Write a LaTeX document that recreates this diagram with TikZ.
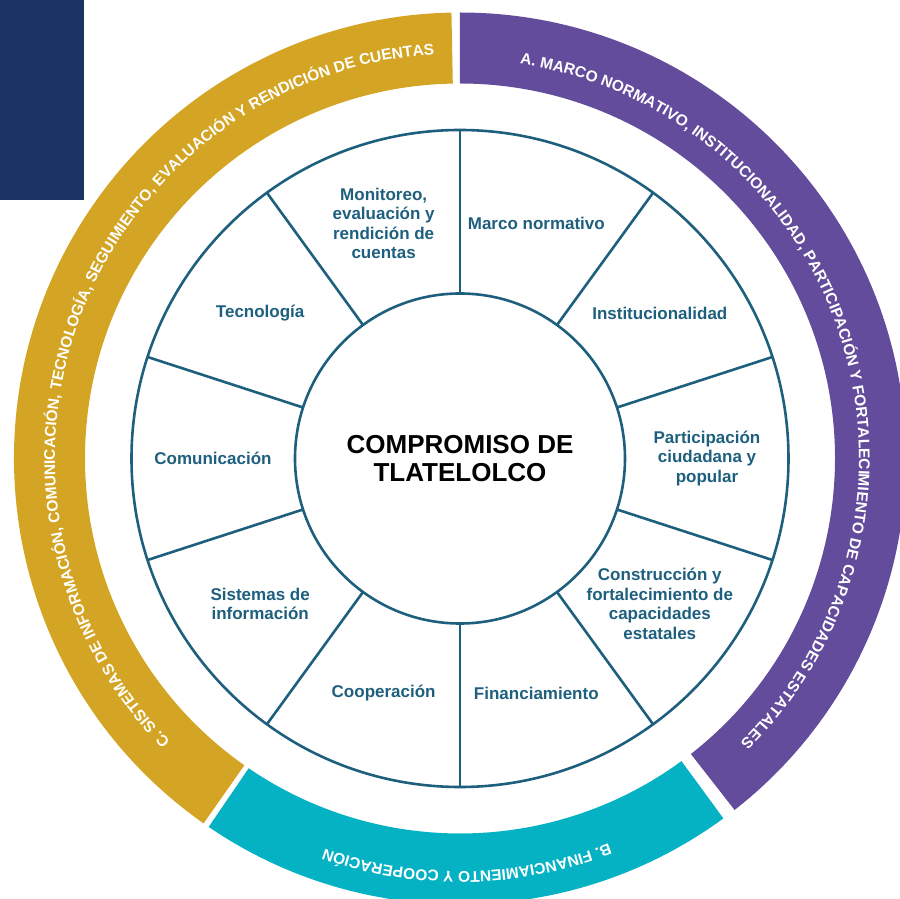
\documentclass[tikz,border=0pt]{standalone}
\usepackage{fontspec}
\setmainfont{Liberation Sans}
\usepackage{xcolor}
\usepackage{tikz}
\usetikzlibrary{decorations.text, positioning}
\definecolor{wheelblue}{HTML}{1E5F7E}
\definecolor{bandpurple}{HTML}{634C9C}
\definecolor{bandteal}{HTML}{04B2C4}
\definecolor{bandgold}{HTML}{D4A524}
\definecolor{cornernavy}{HTML}{1B3463}
\tikzset{
    spoke/.style = {draw=wheelblue, line width=2.6pt},
    circlenode/.style = {draw=wheelblue, line width=2.6pt, circle, fill=none, inner sep=0em, outer sep=0em},
    cellnode/.style = {draw=none, fill=none, rectangle, inner sep=0em, align=center, text=wheelblue, 
      font=\fontsize{17}{19.5}\selectfont\bfseries},
    centernode/.style = {align=center, text=black, font=\fontsize{26}{28}\selectfont\bfseries},
    bandtext/.style = {decorate, decoration={text along path, text color=white, text align=center, 
      text={|\fontsize{15.5}{18}\selectfont\bfseries|#1}}}
}
\begin{document}
\begin{tikzpicture}[x=1pt, y=1pt]
    \useasboundingbox (-460,-440.5) rectangle (440,458.5);
    \fill[cornernavy] (-460,458.5) rectangle (-376,258.5);

    \fill[bandpurple] (90:446) arc[start angle=90, end angle=-52, radius=446] -- (-52:375) 
      arc[start angle=-52, end angle=90, radius=375] -- cycle;
    \fill[bandteal] (-53.8:446) arc[start angle=-53.8, end angle=-124.3, radius=446] -- (-124.3:375) 
      arc[start angle=-124.3, end angle=-53.8, radius=375] -- cycle;
    \fill[bandgold] (234.9:446) arc[start angle=234.9, end angle=91.1, radius=446] -- (91.1:375) 
      arc[start angle=91.1, end angle=234.9, radius=375] -- cycle;

    \path[bandtext={A. MARCO NORMATIVO, INSTITUCIONALIDAD, PARTICIPACIÓN Y FORTALECIMIENTO DE CAPACIDADES ESTATALES}] 
      (88:399) arc[start angle=88, end angle=-52, radius=399];
    \path[bandtext={B. FINANCIAMIENTO Y COOPERACIÓN}] 
      (-54:413) arc[start angle=-54, end angle=-124, radius=413];
    \path[bandtext={C. SISTEMAS DE INFORMACIÓN, COMUNICACIÓN, TECNOLOGÍA, SEGUIMIENTO, EVALUACIÓN Y RENDICIÓN DE CUENTAS}] 
      (232:405) arc[start angle=232, end angle=86, radius=405];

    \node [name=rim, circlenode, minimum size=657pt] at (0,0) {};
    \node [name=hub, circlenode, minimum size=330pt] at (0,0) {};
    \node [name=title, centernode] at (hub.center) {COMPROMISO DE\\TLATELOLCO};

    \draw[spoke] (hub.90) -- (rim.90);
    \draw[spoke] (hub.54) -- (rim.54);
    \draw[spoke] (hub.18) -- (rim.18);
    \draw[spoke] (hub.-18) -- (rim.-18);
    \draw[spoke] (hub.-54) -- (rim.-54);
    \draw[spoke] (hub.-90) -- (rim.-90);
    \draw[spoke] (hub.-126) -- (rim.-126);
    \draw[spoke] (hub.-162) -- (rim.-162);
    \draw[spoke] (hub.162) -- (rim.162);
    \draw[spoke] (hub.126) -- (rim.126);

    \node [name=marco, cellnode] at (72:247) {Marco normativo};
    \node [name=instit, cellnode] at (36:247) {Institucionalidad};
    \node [name=particip, cellnode] at (0:247) {Participación\\ciudadana y\\popular};
    \node [name=construc, cellnode] at (-36:247) {Construcción y\\fortalecimiento de\\capacidades\\estatales};
    \node [name=financ, cellnode] at (-72:247) {Financiamiento};
    \node [name=coop, cellnode] at (-108:247) {Cooperación};
    \node [name=sistemas, cellnode] at (-144:247) {Sistemas de\\información};
    \node [name=comunic, cellnode] at (180:247) {Comunicación};
    \node [name=tecno, cellnode] at (144:247) {Tecnología};
    \node [name=monitoreo, cellnode] at (108:247) {Monitoreo,\\evaluación y\\rendición de\\cuentas};
\end{tikzpicture}
\end{document}
